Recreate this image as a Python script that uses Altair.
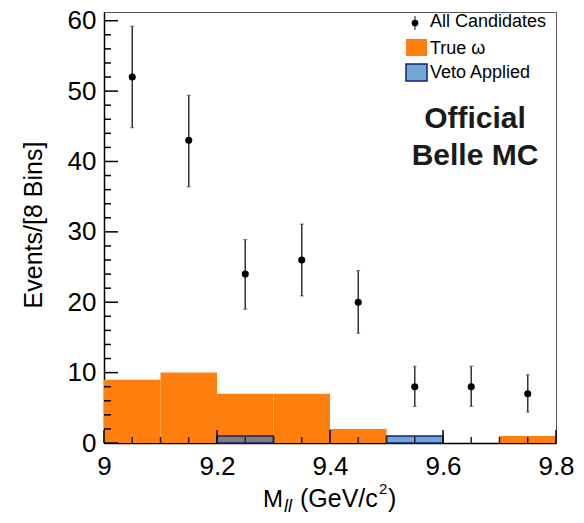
import altair as alt
import pandas as pd

# ---- data ----
mass_centers = [9.05, 9.15, 9.25, 9.35, 9.45, 9.55, 9.65, 9.75]
all_candidates = [52, 43, 24, 26, 20, 8, 8, 7]
err_low = [44.8, 36.4, 19.0, 20.9, 15.6, 5.2, 5.2, 4.4]
err_high = [59.2, 49.4, 28.9, 31.1, 24.5, 10.9, 10.9, 9.7]

bin_low = [9.0, 9.1, 9.2, 9.3, 9.4, 9.5, 9.6, 9.7]
bin_high = [9.1, 9.2, 9.3, 9.4, 9.5, 9.6, 9.7, 9.8]
true_omega = [9, 10, 7, 7, 2, 0, 0, 1]
veto_applied = [0, 0, 1, 0, 0, 1, 0, 0]

y_major = [0, 10, 20, 30, 40, 50, 60]
y_minor = [v for v in range(0, 62, 2) if v % 10 != 0]
x_major = [9.0, 9.2, 9.4, 9.6, 9.8]
x_minor = [9.05, 9.1, 9.15, 9.25, 9.3, 9.35, 9.45, 9.5, 9.55, 9.65, 9.7, 9.75]

points = pd.DataFrame({"m": mass_centers, "n": all_candidates, "lo": err_low, "hi": err_high})
hist = pd.DataFrame({"x0": bin_low, "x1": bin_high, "t": true_omega, "v": veto_applied})

W, H = 452, 431
FONT = "Liberation Sans"
xs = alt.Scale(domain=[9.0, 9.8], nice=False, zero=False)
ys = alt.Scale(domain=[0, 61.24], nice=False, zero=False)

xaxis = alt.Axis(values=x_major, format="~g", title=None, ticks=False, grid=False,
                 labelFontSize=26, labelFont=FONT, labelColor="black", labelPadding=10,
                 labelFlush=False, labelOverlap=False, labelBound=False,
                 domainColor="black", domainWidth=1.5)
yaxis = alt.Axis(values=y_major, title=None, ticks=False, grid=False,
                 labelFontSize=26, labelFont=FONT, labelColor="black", labelPadding=8,
                 labelOverlap=False, labelBound=False,
                 domainColor="black", domainWidth=1.5)


def X(f):
    return alt.X(f, scale=xs, axis=xaxis)


def Y(f):
    return alt.Y(f, scale=ys, axis=yaxis)


one = alt.Data(values=[{"k": 1}])

true_bars = alt.Chart(hist).transform_filter("datum.t > 0").mark_rect(
    color="#ff7f0e", strokeWidth=0
).encode(x=X("x0:Q"), x2="x1:Q", y=Y("t:Q"), y2=alt.datum(0))

veto_bars = alt.Chart(hist).transform_filter("datum.v > 0").mark_rect(
    stroke="#1c1c78", strokeWidth=1.5
).encode(
    x=X("x0:Q"), x2="x1:Q", y=Y("v:Q"), y2=alt.datum(0),
    color=alt.condition("datum.t > 0", alt.value("#7f7f74"), alt.value("#6fa9cf")),
)

ytick_major = alt.Chart(pd.DataFrame({"y": y_major})).mark_rule(color="black", strokeWidth=1.5).encode(
    y=Y("y:Q"), x=alt.value(0), x2=alt.value(14))
ytick_minor = alt.Chart(pd.DataFrame({"y": y_minor})).mark_rule(color="black", strokeWidth=1.5).encode(
    y=Y("y:Q"), x=alt.value(0), x2=alt.value(7))
xtick_major = alt.Chart(pd.DataFrame({"x": x_major})).mark_rule(color="black", strokeWidth=1.5).encode(
    x=X("x:Q"), y=alt.value(H), y2=alt.value(H - 13))
xtick_minor = alt.Chart(pd.DataFrame({"x": x_minor})).mark_rule(color="#222", strokeWidth=1.5).encode(
    x=X("x:Q"), y=alt.value(H), y2=alt.value(H - 6))

err = alt.Chart(points).mark_rule(color="#333", strokeWidth=1.5).encode(
    x=X("m:Q"), y=Y("lo:Q"), y2="hi:Q")
cap_lo = alt.Chart(points).mark_tick(orient="horizontal", size=4, thickness=1.2, color="#555").encode(
    x=X("m:Q"), y=Y("lo:Q"))
cap_hi = alt.Chart(points).mark_tick(orient="horizontal", size=4, thickness=1.2, color="#555").encode(
    x=X("m:Q"), y=Y("hi:Q"))
dots = alt.Chart(points).mark_point(filled=True, size=50, color="black", opacity=1).encode(
    x=X("m:Q"), y=Y("n:Q"))

# ---- legend (manual, ROOT style) ----
leg_rule = alt.Chart(one).mark_rule(color="#333366", strokeWidth=1.2).encode(
    x=alt.value(311), y=alt.value(4), y2=alt.value(18))
leg_dot = alt.Chart(one).mark_point(filled=True, size=45, color="black", opacity=1).encode(
    x=alt.value(311), y=alt.value(11))
leg_orange = alt.Chart(one).mark_rect(color="#ff7f0e").encode(
    x=alt.value(302), x2=alt.value(323), y=alt.value(27), y2=alt.value(44))
leg_blue = alt.Chart(one).mark_rect(color="#6fa9cf", stroke="#1c1c78", strokeWidth=1.5).encode(
    x=alt.value(302), x2=alt.value(323), y=alt.value(52), y2=alt.value(69))


def txt(s, x, y, size, align="left", baseline="alphabetic", **kw):
    return alt.Chart(one).mark_text(text=s, font=FONT, fontSize=size, color=kw.pop("color", "black"),
                                    align=align, baseline=baseline, **kw).encode(
        x=alt.value(x), y=alt.value(y))


leg_t1 = txt("All Candidates", 326, 10, 18, baseline="middle")
leg_t2 = txt("True ω", 326, 37, 18, baseline="middle")
leg_t3 = txt("Veto Applied", 326, 61, 18, baseline="middle")

off1 = txt("Official", 371, 116, 30, align="center", fontWeight="bold", color="#1a1a1a")
off2 = txt("Belle MC", 371, 153, 30, align="center", fontWeight="bold", color="#1a1a1a")

# ---- axis titles ----
ytitle = txt("Events/[8 Bins]", -70, 213, 25, align="center", baseline="middle", angle=270)
xt_M = txt("M", 159, 495, 24)
xt_ll = txt("ll", 180, 500, 18, fontStyle="italic")
xt_unit = txt("(GeV/c", 196, 495, 25)
xt_sup = txt("2", 275, 482, 15)
xt_close = txt(")", 284, 495, 25)

chart = alt.layer(
    true_bars, veto_bars,
    ytick_major, ytick_minor, xtick_major, xtick_minor,
    err, cap_lo, cap_hi, dots,
    leg_rule, leg_dot, leg_orange, leg_blue, leg_t1, leg_t2, leg_t3,
    off1, off2, ytitle, xt_M, xt_ll, xt_unit, xt_sup, xt_close,
).properties(
    width=W, height=H,
    autosize=alt.AutoSizeParams(type="none"),
    padding={"left": 96, "top": 4, "right": 20, "bottom": 72},
).configure_view(stroke="#555", strokeWidth=1)

chart.save("out.html", embed_options={"renderer": "svg", "actions": False})
